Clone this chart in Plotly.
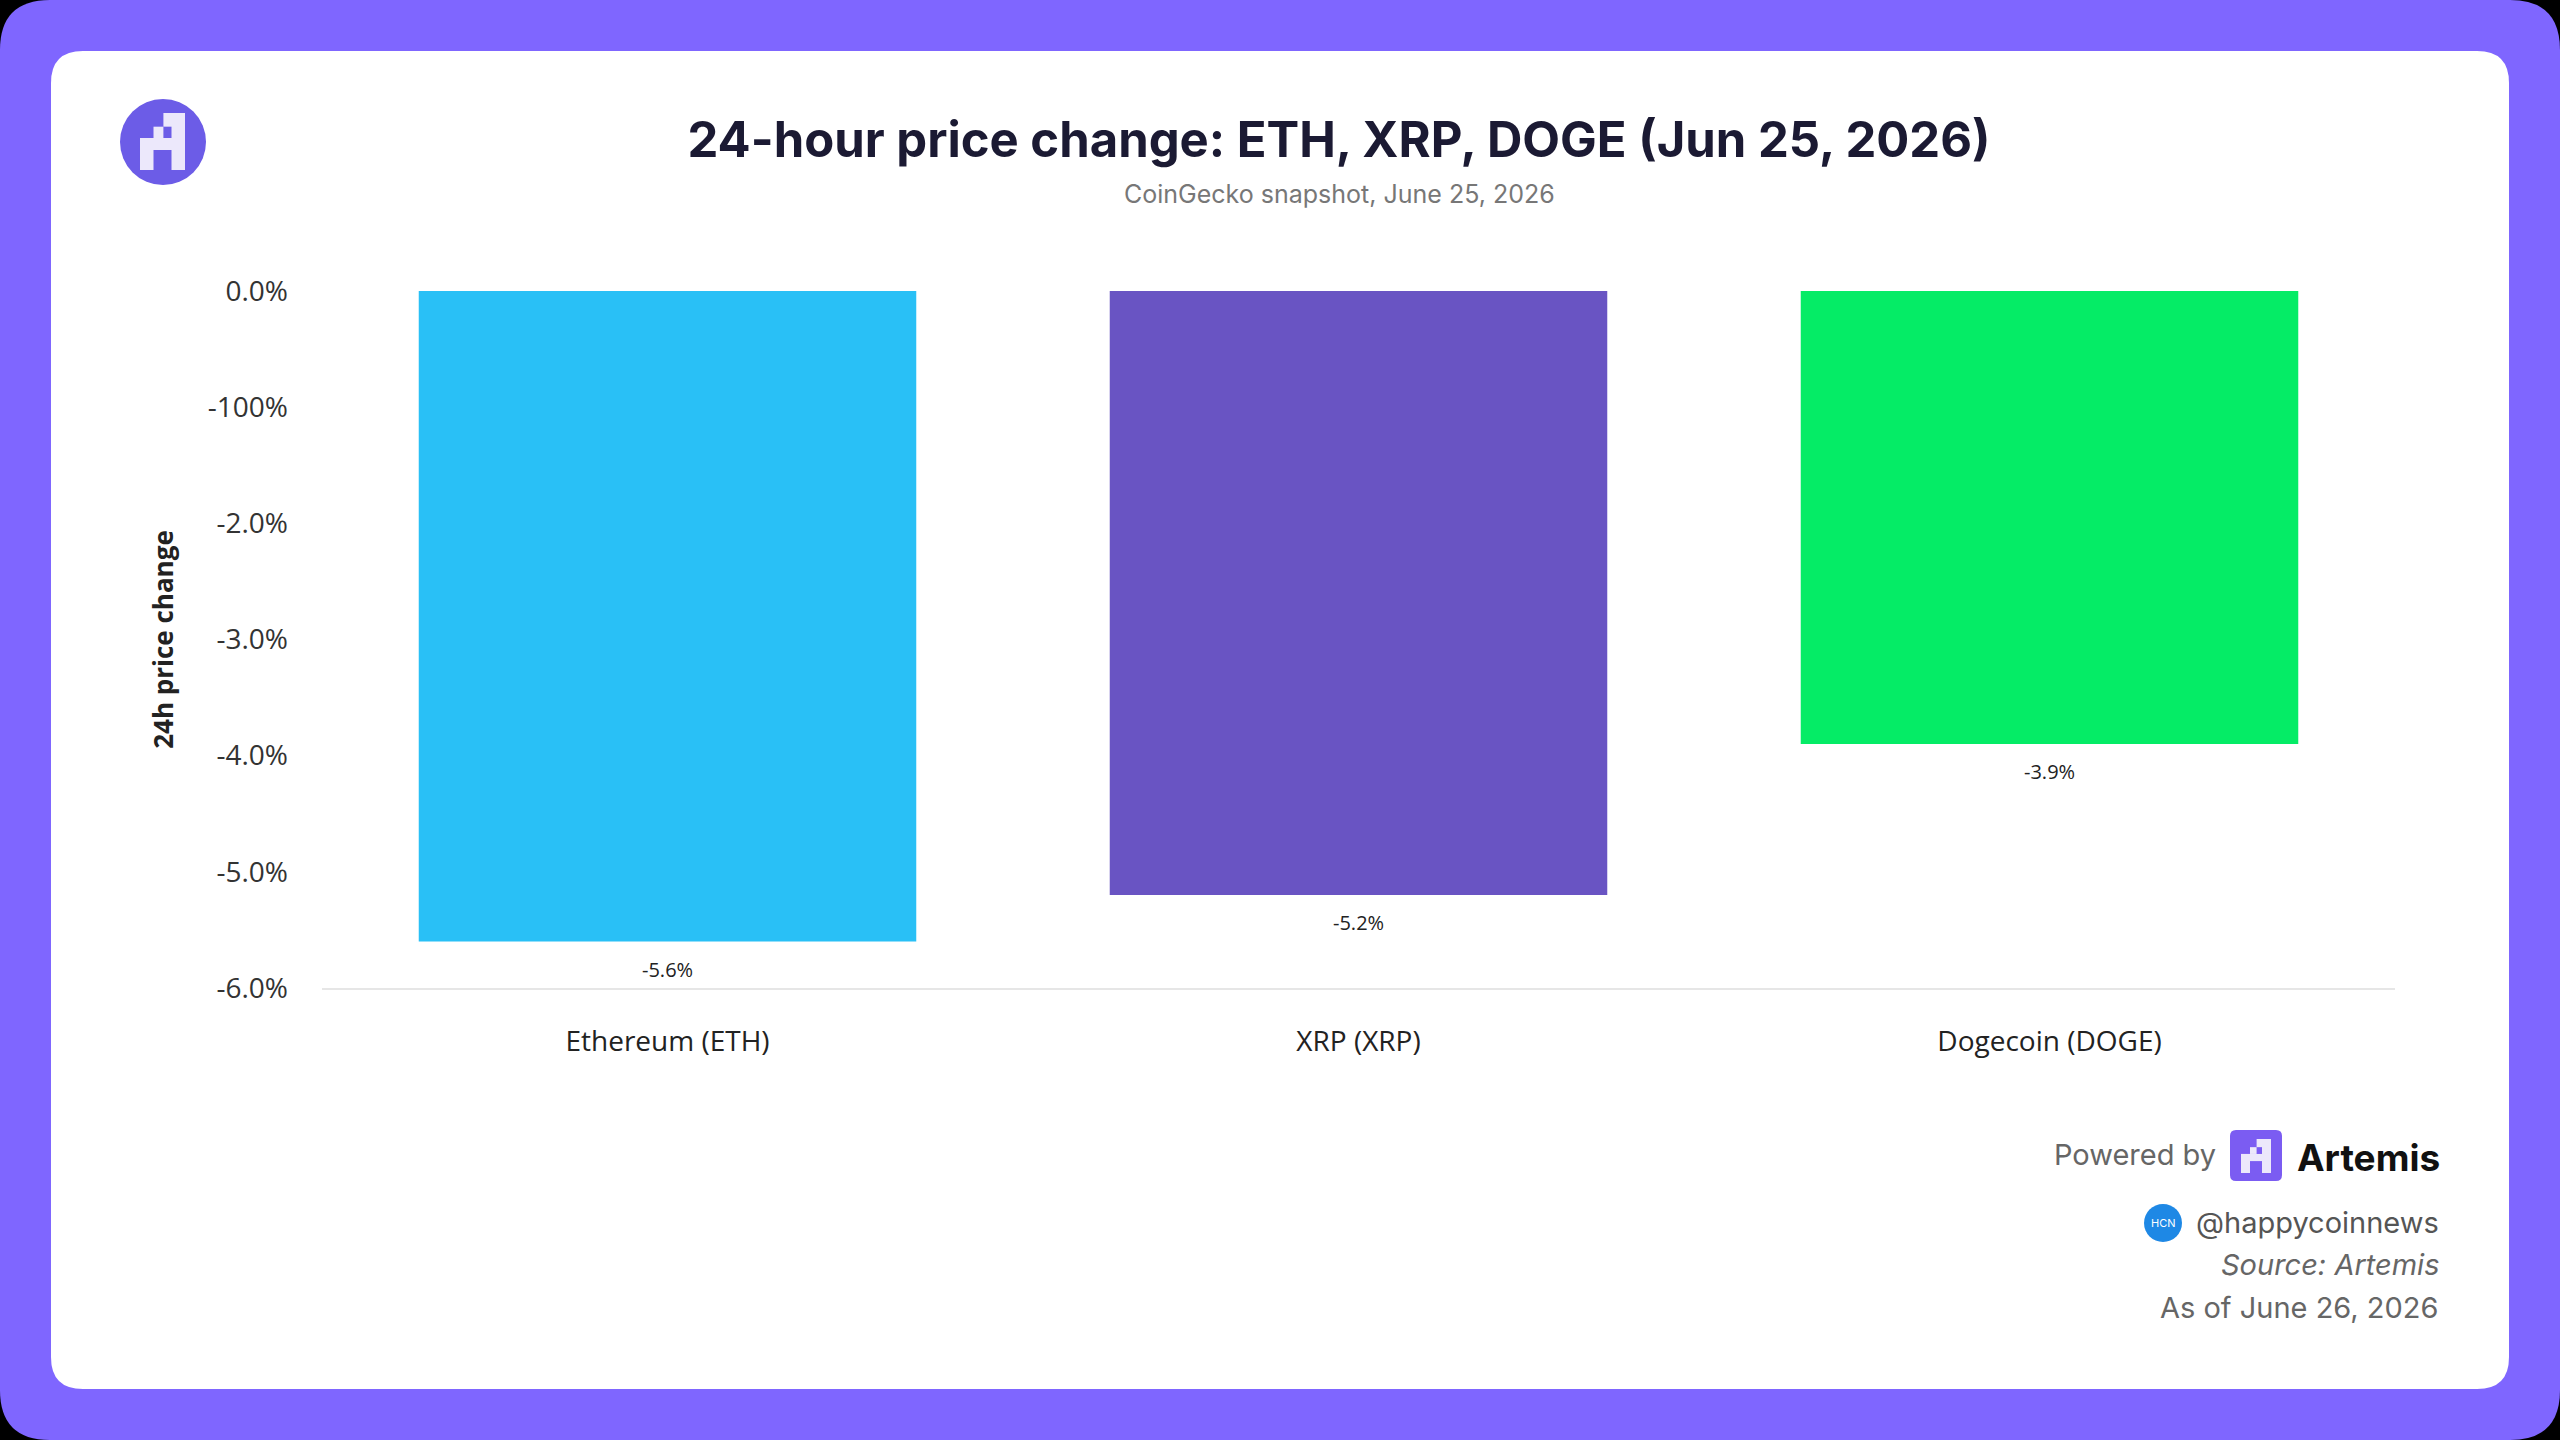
import plotly.graph_objects as go

# data
coins = ['Ethereum (ETH)', 'XRP (XRP)', 'Dogecoin (DOGE)']
change_24h = [-5.6, -5.2, -3.9]
bar_colors = ['#29C0F6', '#6954C3', '#05EC66']
tick_vals = [0, -1, -2, -3, -4, -5, -6]
tick_text = ['0.0%', '-100%', '-2.0%', '-3.0%', '-4.0%', '-5.0%', '-6.0%']

W, H = 2560, 1440
L, R, T, B = 322, 165, 291, 452
PW, PH = W - L - R, H - T - B


# pixel -> paper helpers for the decoration shapes
def px(x):
    return (x - L) / PW


def py(y):
    return (H - B - y) / PH


def rounded_rect(x0, y0, x1, y1, r):
    # pixel coords, y downward; returns svg path in paper coords
    rx, ry = r / PW, r / PH
    a, b, c, d = px(x0), px(x1), py(y0), py(y1)
    return (f'M {a + rx},{c} L {b - rx},{c} Q {b},{c} {b},{c - ry} '
            f'L {b},{d + ry} Q {b},{d} {b - rx},{d} L {a + rx},{d} '
            f'Q {a},{d} {a},{d + ry} L {a},{c - ry} Q {a},{c} {a + rx},{c} Z')


def letter_a(x0, y0, x1, y1, color):
    # pixel style "A" of the Artemis logo
    w, h = x1 - x0, y1 - y0
    parts = [(0.52, 0, 1.0, 0.24), (0.70, 0, 1.0, 1.0), (0.30, 0.24, 0.52, 0.44),
             (0, 0.44, 1.0, 0.65), (0, 0.44, 0.30, 1.0)]
    out = []
    for a, b, c, d in parts:
        out.append(dict(type='rect', xref='paper', yref='paper',
                        x0=px(x0 + a * w), x1=px(x0 + c * w),
                        y0=py(y0 + b * h), y1=py(y0 + d * h),
                        fillcolor=color, line=dict(width=0)))
    return out


fig = go.Figure()
fig.add_trace(go.Bar(
    x=coins, y=change_24h,
    marker=dict(color=bar_colors, line=dict(width=0)),
    width=0.72,
    showlegend=False,
))

shapes = [
    dict(type='path', xref='paper', yref='paper', layer='below',
         path=rounded_rect(0, 0, W, H, 50), fillcolor='#7F66FF', line=dict(width=0)),
    dict(type='path', xref='paper', yref='paper', layer='below',
         path=rounded_rect(51, 51, 2509, 1389, 32), fillcolor='#FFFFFF', line=dict(width=0)),
    # top-left logo
    dict(type='circle', xref='paper', yref='paper',
         x0=px(120), x1=px(206), y0=py(99), y1=py(185),
         fillcolor='#6C5CE7', line=dict(width=0)),
    # footer Artemis square
    dict(type='path', xref='paper', yref='paper',
         path=rounded_rect(2230, 1130, 2282, 1181, 6), fillcolor='#7B5CF2', line=dict(width=0)),
    # HCN circle
    dict(type='circle', xref='paper', yref='paper',
         x0=px(2144), x1=px(2182), y0=py(1204), y1=py(1242),
         fillcolor='#1E88E5', line=dict(width=0)),
]
shapes += letter_a(140, 113, 185, 170, '#ECE8FB')
shapes += letter_a(2241, 1139, 2271, 1173, '#ECE8FB')

annotations = [
    dict(text='CoinGecko snapshot, June 25, 2026', x=px(1339), y=py(194),
         font=dict(family='Inter', size=25, color='#777777')),
    dict(text='Powered by', x=px(2218), y=py(1154), xanchor='right',
         font=dict(family='Inter', size=29, color='#666666')),
    dict(text='<b>Artemis</b>', x=px(2442), y=py(1157), xanchor='right',
         font=dict(family='Inter', size=37, color='#111111')),
    dict(text='HCN', x=px(2163), y=py(1223),
         font=dict(family='Inter', size=11, color='#FFFFFF')),
    dict(text='@happycoinnews', x=px(2441), y=py(1222), xanchor='right',
         font=dict(family='Inter', size=29, color='#555555')),
    dict(text='<i>Source: Artemis</i>', x=px(2441), y=py(1264), xanchor='right',
         font=dict(family='Inter', size=29, color='#666666')),
    dict(text='As of June 26, 2026', x=px(2441), y=py(1307), xanchor='right',
         font=dict(family='Inter', size=29, color='#666666')),
]
for a in annotations:
    a.update(xref='paper', yref='paper', showarrow=False, yanchor='middle',
             xanchor=a.get('xanchor', 'center'))

# value labels under each bar
for coin, val in zip(coins, change_24h):
    annotations.append(dict(x=coin, y=val, xref='x', yref='y', text=f'{val:.1f}%',
                            showarrow=False, yanchor='top', yshift=-12,
                            font=dict(family='Open Sans', size=20, color='#222222')))

fig.update_layout(
    width=W, height=H,
    margin=dict(l=L, r=R, t=T, b=B),
    paper_bgcolor='#000000',
    plot_bgcolor='rgba(0,0,0,0)',
    title=dict(text='<b>24-hour price change: ETH, XRP, DOGE (Jun 25, 2026)</b>',
               x=1339 / W, xanchor='center', y=1 - 140 / H, yanchor='middle',
               font=dict(family='Inter', size=49, color='#1B1A33')),
    xaxis=dict(showgrid=False, showline=True, linecolor='#E6E6E6', linewidth=2,
               ticks='', ticklabelstandoff=27,
               tickfont=dict(family='Open Sans', size=28, color='#222222')),
    yaxis=dict(range=[-6, 0], tickvals=tick_vals, ticktext=tick_text,
               showgrid=False, zeroline=False, showline=False, ticks='',
               ticklabelstandoff=33,
               tickfont=dict(family='Open Sans', size=28, color='#333333'),
               title=dict(text='<b>24h price change</b>', standoff=26,
                          font=dict(family='Open Sans', size=26, color='#222222'))),
    shapes=shapes,
    annotations=annotations,
    bargap=0.28,
)

fig.write_html('out.html', config={'displayModeBar': False},
               post_script="document.body.style.margin='0';document.body.style.overflow='hidden';")
